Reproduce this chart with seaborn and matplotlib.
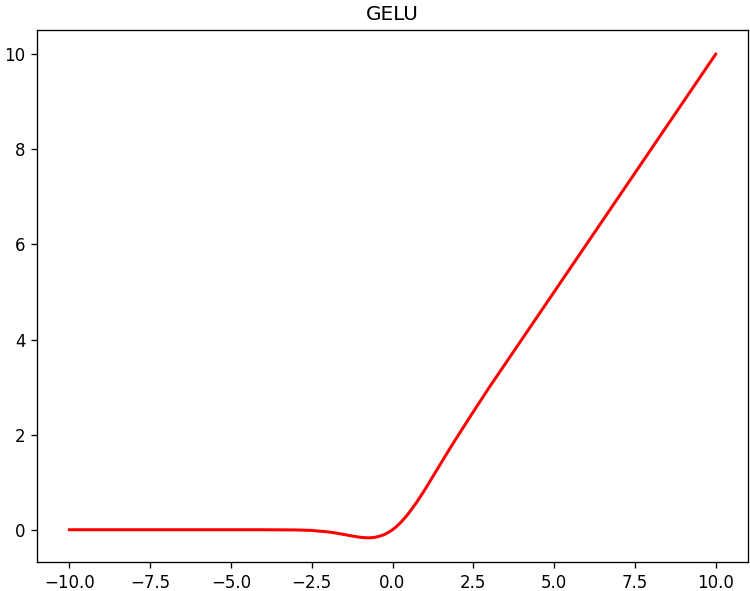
import seaborn as sns
import matplotlib
matplotlib.use('Agg')
import matplotlib.pyplot as plt
import pandas as pd

# values
x_vals = [-10, -8, -6, -4, -3, -2.5, -2, -1.75, -1.5, -1.25, -1, -0.875, -0.75, -0.625,
          -0.5, -0.375, -0.25, -0.125, 0, 0.125, 0.25, 0.375, 0.5, 0.75, 1, 1.25, 1.5,
          1.75, 2, 2.5, 3, 4, 5, 6, 8, 10]
y_vals = [0, 0, 0, 0, -0.004, -0.015, -0.045, -0.07, -0.10, -0.132, -0.159, -0.166, -0.17, -0.166,
          -0.154, -0.13, -0.10, -0.056, 0, 0.068, 0.15, 0.243, 0.346, 0.58, 0.84, 1.12, 1.40,
          1.68, 1.95, 2.48, 3.0, 4.0, 5.0, 6.0, 8.0, 10.0]

gelu = pd.DataFrame({'x': x_vals, 'y': y_vals})

fig = plt.figure(figsize=(6.25, 4.925), dpi=120)
ax = fig.add_axes([37 / 750, 29 / 591, 711 / 750, 532 / 591])

sns.lineplot(data=gelu, x='x', y='y', color='red', linewidth=1.8, ax=ax)
ax.set_title('GELU')
ax.set_xlabel('')
ax.set_ylabel('')
ax.set_xticks([-10, -7.5, -5, -2.5, 0, 2.5, 5, 7.5, 10])
ax.set_xticklabels(['\u221210.0', '\u22127.5', '\u22125.0', '\u22122.5', '0.0', '2.5', '5.0', '7.5', '10.0'])
ax.set_yticks([0, 2, 4, 6, 8, 10])

fig.savefig('out.png', dpi=120)
